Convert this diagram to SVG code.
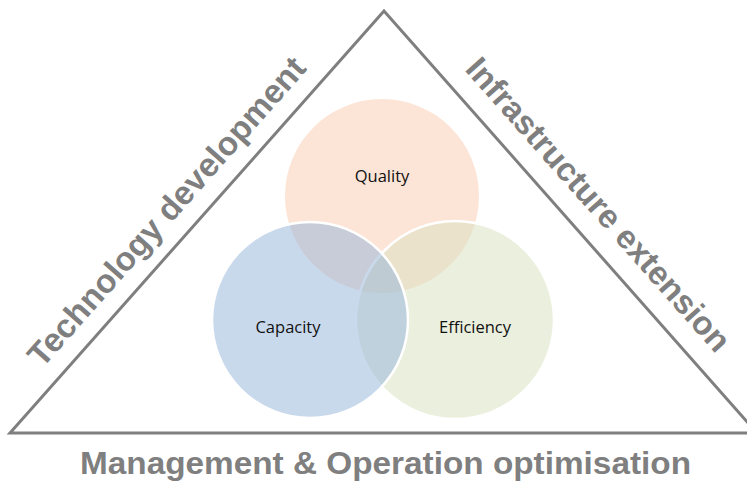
<svg xmlns="http://www.w3.org/2000/svg" width="747" height="481" viewBox="0 0 747 481">
  <style>
    .frame { fill: none; stroke: #7f7f7f; stroke-width: 3; stroke-linejoin: miter; }
    .side { font-family: "Liberation Sans", Arial, sans-serif; font-weight: bold; font-size: 33px; fill: #7f7f7f; text-anchor: middle; }
    .base { font-family: "Liberation Sans", Arial, sans-serif; font-weight: bold; font-size: 31px; fill: #7f7f7f; text-anchor: middle; }
    .ring { stroke: #ffffff; stroke-width: 2.5; }
    .tag { font-family: "Open Sans", "Liberation Sans", sans-serif; font-size: 16.5px; fill: #111111; text-anchor: middle; }
  </style>
  <rect width="747" height="481" fill="#ffffff"/>

  <!-- outer triangle -->
  <g id="frame">
    <polygon class="frame" points="384,11 10,433 757,433"/>
  </g>

  <!-- side labels -->
  <g id="label-technology">
    <text class="side" transform="translate(175,219) rotate(-48.46)" textLength="400" lengthAdjust="spacingAndGlyphs">Technology development</text>
  </g>
  <g id="label-infrastructure">
    <text class="side" transform="translate(590,212) rotate(48.46)" textLength="380" lengthAdjust="spacingAndGlyphs">Infrastructure extension</text>
  </g>
  <g id="label-management">
    <text class="base" x="385.5" y="474" textLength="611" lengthAdjust="spacingAndGlyphs">Management &amp; Operation optimisation</text>
  </g>

  <!-- Venn circles -->
  <g id="quality">
    <circle cx="382" cy="196" r="97" fill="#fce5d6"/>
  </g>
  <g id="efficiency">
    <circle class="ring" cx="455" cy="320" r="99" fill="#d7dfbd" fill-opacity="0.5"/>
  </g>
  <g id="capacity">
    <circle class="ring" cx="310" cy="320" r="98" fill="#93b3d9" fill-opacity="0.5"/>
  </g>

  <!-- circle captions -->
  <g id="captions">
    <text class="tag" x="382" y="182">Quality</text>
    <text class="tag" x="288" y="333">Capacity</text>
    <text class="tag" x="475" y="333">Efficiency</text>
  </g>
</svg>
